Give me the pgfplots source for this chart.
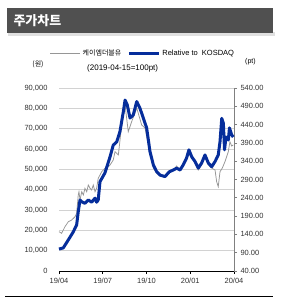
\documentclass[border=0pt]{standalone}
\usepackage{pgfplots}
\pgfplotsset{compat=1.18}
\usepackage{fontspec}
\setmainfont{Liberation Sans}
\newfontfamily\cjk{Noto Sans CJK KR}
\definecolor{navy}{RGB}{5,45,155}
\definecolor{titlebg}{RGB}{80,80,80}
\definecolor{grayline}{RGB}{150,150,150}

\pgfplotstableread{
x y
0 19330
0.18 18540
0.41 21790
0.64 24250
0.87 25080
1.10 26700
1.21 28380
1.32 37380
1.37 39000
1.44 34920
1.56 39000
1.67 37380
1.78 40670
1.90 39000
2.01 42300
2.13 40670
2.24 39840
2.35 42300
2.47 39000
2.58 40670
2.69 45590
2.81 47210
2.93 48840
3.15 50510
3.38 51290
3.50 52130
3.72 54590
3.84 58670
4.07 57100
4.30 71800
4.53 81640
4.75 68500
4.98 73400
5.33 80160
5.67 71800
5.90 70330
6.24 57540
6.47 50650
6.70 48200
6.93 46720
7.27 46230
7.56 48690
7.84 49670
8.07 51640
8.30 49180
8.52 52130
8.75 54590
8.91 58030
9.10 55570
9.33 53610
9.55 49670
9.78 52130
10.01 56070
10.24 52130
10.47 50650
10.70 49670
10.81 43920
10.92 41460
11.04 48840
11.20 50650
11.38 53750
11.61 58670
11.72 63590
11.84 61480
11.95 61970
}\pricetable

\pgfplotstableread{
x y
0 100
0.29 103
0.64 125
0.98 147
1.21 166
1.32 202
1.44 234
1.56 229
1.78 225
2.01 234
2.24 228
2.47 239
2.58 228
2.69 234
2.81 284
3.15 308
3.50 352
3.72 384
3.96 393
4.18 421
4.41 475
4.53 507
4.68 494
4.87 458
5.09 466
5.33 503
5.55 485
5.78 458
6.01 431
6.24 366
6.47 330
6.70 311
6.93 302
7.27 298
7.56 311
7.84 316
8.07 321
8.30 316
8.52 330
8.75 349
8.91 371
9.10 352
9.33 339
9.55 321
9.78 335
10.01 357
10.24 335
10.47 325
10.70 339
10.92 357
11.04 393
11.16 457
11.27 444
11.35 371
11.45 406
11.61 398
11.69 431
11.84 412
11.95 406
}\reltable

\begin{document}
\begin{tikzpicture}
\path[use as bounding box] (0pt,0pt) rectangle (281pt,308pt);
\fill[white] (0pt,0pt) rectangle (281pt,308pt);
\fill[black!12] (8pt,272pt) rectangle (275pt,276pt);
\fill[titlebg] (7pt,275pt) rectangle (273pt,300pt);
\node[anchor=west,text=white,font=\cjk\bfseries\fontsize{13}{13}\selectfont] at (10pt,287.5pt) {주가차트};
\node[font=\cjk\fontsize{7}{8}\selectfont] at (38pt,244pt) {(원)};
\node[anchor=west, font=\fontsize{8}{9}\selectfont, inner sep=0] at (87pt,240pt) {(2019-04-15=100pt)};
\node[anchor=west, font=\fontsize{7}{8}\selectfont, inner sep=0] at (245pt,246pt) {(pt)};
\draw[black, line width=0.8pt] (5pt,12pt) -- (273pt,12pt);

\begin{axis}[
  at={(59pt,37pt)}, anchor=south west,
  scale only axis, width=175pt, height=183pt,
  xmin=0, xmax=12, ymin=0, ymax=90000,
  xtick={0,3,6,9,12},
  xticklabels={19/04,19/07,19/10,20/01,20/04},
  ytick={0,10000,...,90000},
  scaled y ticks=false,
  /pgf/number format/.cd, 1000 sep={,}, assume math mode=true,
  /pgfplots/.cd,
  axis x line*=bottom,
  axis y line*=left,
  y axis line style={draw=none},
  x axis line style={black, line width=0.6pt, -},
  xtick style={black, line width=0.6pt},
  ytick style={draw=none},
  tick align=outside,
  major tick length=3pt,
  ymajorgrids,
  grid style={gray!35, line width=0.6pt},
  tick label style={font=\fontsize{7.5}{8}\selectfont, text=black!80},
  yticklabel style={xshift=-5pt},
  xticklabel style={yshift=-1pt},
  clip=false,
]
\addplot[grayline, line width=0.75pt] table[x=x,y=y] {\pricetable};
\end{axis}

\begin{axis}[
  at={(59pt,37pt)}, anchor=south west,
  scale only axis, width=175pt, height=183pt,
  xmin=0, xmax=12, ymin=40, ymax=540,
  ytick={40,90,...,540},
  axis x line=none,
  axis y line*=right,
  y axis line style={gray, line width=0.6pt, -},
  ytick style={gray, line width=0.6pt},
  tick align=outside,
  major tick length=3pt,
  /pgf/number format/.cd, fixed, fixed zerofill, precision=2, assume math mode=true,
  /pgfplots/.cd,
  tick label style={font=\fontsize{7.5}{8}\selectfont, text=black!80},
  yticklabel style={xshift=0pt},
  legend style={at={(axis description cs:0.48,1.191)}, anchor=center, draw=none, fill=none,
    legend columns=2, font=\fontsize{7.5}{8}\selectfont,
    /tikz/every even column/.append style={column sep=4pt}, inner sep=0pt},
  legend image code/.code={\draw[#1] (0pt,0pt) -- (30pt,0pt);},
  clip=false,
]
\addlegendimage{grayline, line width=0.75pt}
\addlegendentry{\cjk\fontsize{7}{8}\selectfont 케이엠더블유}
\addplot[navy, line width=3pt, line join=round] table[x=x,y=y] {\reltable};
\addlegendentry{Relative to\ \ KOSDAQ}
\end{axis}
\end{tikzpicture}
\end{document}
